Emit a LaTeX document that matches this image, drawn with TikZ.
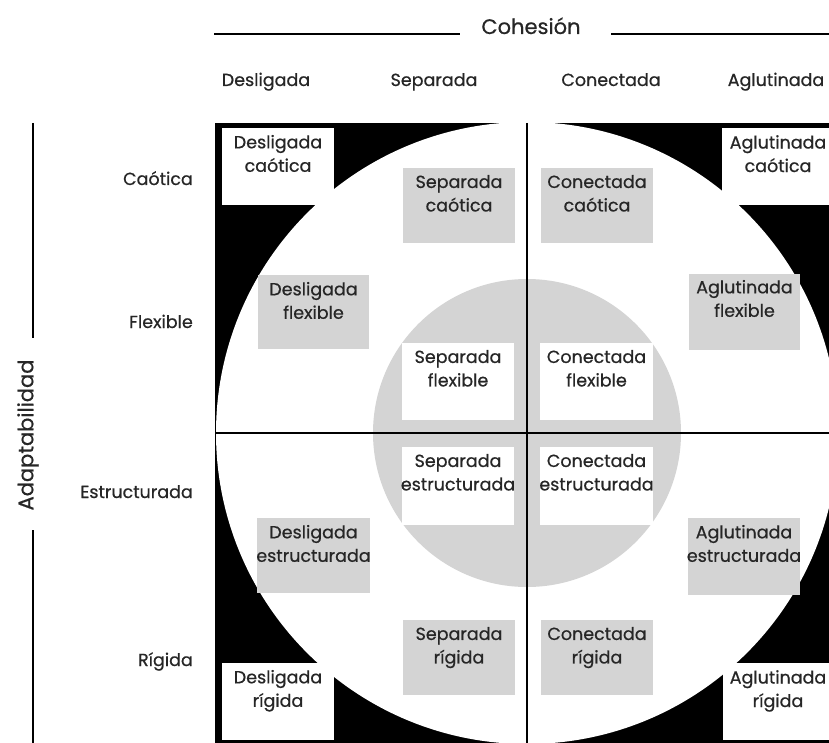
\documentclass[tikz,border=0pt]{standalone}
\usepackage{fontspec}
\setmainfont{Poppins}[FakeBold=0.6]
\definecolor{boxgray}{HTML}{D4D4D4}
\definecolor{txt}{HTML}{262626}
\begin{document}
\begin{tikzpicture}[x=1pt,y=-1pt,
  lbl/.style={font=\fontsize{17.5}{23.5}\selectfont, text=txt, align=center, inner sep=0pt},
  axislbl/.style={font=\fontsize{21}{25}\selectfont, text=txt, inner sep=0pt},
  gbox/.style={fill=boxgray, draw=none, inner sep=0pt},
  wbox/.style={fill=white, draw=none, inner sep=0pt},
  axisline/.style={line width=2pt, black},
  gridline/.style={line width=2pt, black}]
\useasboundingbox (0,0) rectangle (829,743);
\begin{scope}
\clip (0,0) rectangle (829,743);
% background shapes
\fill[black] (215,123) rectangle (845,745);
\fill[white] (527,433) circle (311);
\fill[boxgray] (527,433) circle (154);
% boxes
\newcommand{\cellbox}[7]{%
  \node[#6, minimum width=#4-#2, minimum height=#5-#3] (#1) at ({(#2+#4)/2},{(#3+#5)/2}) {};
}
\cellbox{dc}{222}{128}{334}{205}{wbox}{}
\cellbox{ac}{722}{128}{845}{205}{wbox}{}
\cellbox{sc}{403}{168}{515}{243}{gbox}{}
\cellbox{cc}{541}{168}{653}{243}{gbox}{}
\cellbox{df}{258}{275}{369}{349}{gbox}{}
\cellbox{af}{689}{274}{800}{350}{gbox}{}
\cellbox{sf}{402}{343}{514}{420}{wbox}{}
\cellbox{cf}{540}{343}{653}{420}{wbox}{}
\cellbox{se}{402}{447}{514}{525}{wbox}{}
\cellbox{ce}{540}{447}{653}{525}{wbox}{}
\cellbox{de}{257}{518}{370}{593}{gbox}{}
\cellbox{ae}{688}{518}{800}{595}{gbox}{}
\cellbox{sr}{403}{620}{515}{695}{gbox}{}
\cellbox{cr}{541}{620}{653}{695}{gbox}{}
\cellbox{dr}{222}{663}{334}{740}{wbox}{}
\cellbox{ar}{723}{663}{845}{740}{wbox}{}
% grid lines
\coordinate (vtop) at (527,123);
\coordinate (vbot) at (527,745);
\coordinate (hleft) at (215,433);
\coordinate (hright) at (835,433);
\draw[gridline] (vtop) -- (vbot);
\draw[gridline] (hleft) -- (hright);
\end{scope}
% box texts
\node[lbl, anchor=north] (dct) at ([yshift=-7]dc.north) {Desligada\\caótica};
\node[lbl, anchor=north] (act) at (778,135) {Aglutinada\\caótica};
\node[lbl, anchor=north] (sct) at ([yshift=-7]sc.north) {Separada\\caótica};
\node[lbl, anchor=north] (cct) at ([yshift=-7]cc.north) {Conectada\\caótica};
\node[lbl, anchor=north] (dft) at ([yshift=-7]df.north) {Desligada\\flexible};
\node[lbl, anchor=north] (aft) at ([yshift=-6]af.north) {Aglutinada\\flexible};
\node[lbl, anchor=north] (sft) at ([yshift=-7]sf.north) {Separada\\flexible};
\node[lbl, anchor=north] (cft) at ([yshift=-7]cf.north) {Conectada\\flexible};
\node[lbl, anchor=north] (set) at ([yshift=-7]se.north) {Separada\\estructurada};
\node[lbl, anchor=north] (cet) at ([yshift=-7]ce.north) {Conectada\\estructurada};
\node[lbl, anchor=north] (det) at ([yshift=-7]de.north) {Desligada\\estructurada};
\node[lbl, anchor=north] (aet) at ([yshift=-7]ae.north) {Aglutinada\\estructurada};
\node[lbl, anchor=north] (srt) at ([yshift=-7]sr.north) {Separada\\rígida};
\node[lbl, anchor=north] (crt) at ([yshift=-7]cr.north) {Conectada\\rígida};
\node[lbl, anchor=north] (drt) at ([yshift=-7]dr.north) {Desligada\\rígida};
\node[lbl, anchor=north] (art) at (778,670) {Aglutinada\\rígida};
% column headers
\node[axislbl, anchor=base] (coh) at (531,34) {Cohesión};
\coordinate (cohl1) at (214,34);
\coordinate (cohl2) at (460,34);
\coordinate (cohr1) at (611,34);
\coordinate (cohr2) at (829,34);
\draw[axisline] (cohl1) -- (cohl2);
\draw[axisline] (cohr1) -- (cohr2);
\node[lbl, anchor=base] (h1) at (266,86) {Desligada};
\node[lbl, anchor=base] (h2) at (434,86) {Separada};
\node[lbl, anchor=base] (h3) at (611,86) {Conectada};
\node[lbl, anchor=base] (h4) at (776,86) {Aglutinada};
% row headers
\node[lbl, anchor=base east] (r1) at (193,185) {Caótica};
\node[lbl, anchor=base east] (r2) at (193,328) {Flexible};
\node[lbl, anchor=base east] (r3) at (193,498) {Estructurada};
\node[lbl, anchor=base east] (r4) at (193,666) {Rígida};
% adaptabilidad axis
\node[axislbl, rotate=90] (adapt) at (28,435) {Adaptabilidad};
\coordinate (al1) at (33,123);
\coordinate (al2) at (33,338);
\coordinate (al3) at (33,530);
\coordinate (al4) at (33,743);
\draw[axisline] (al1) -- (al2);
\draw[axisline] (al3) -- (al4);
\end{tikzpicture}
\end{document}
